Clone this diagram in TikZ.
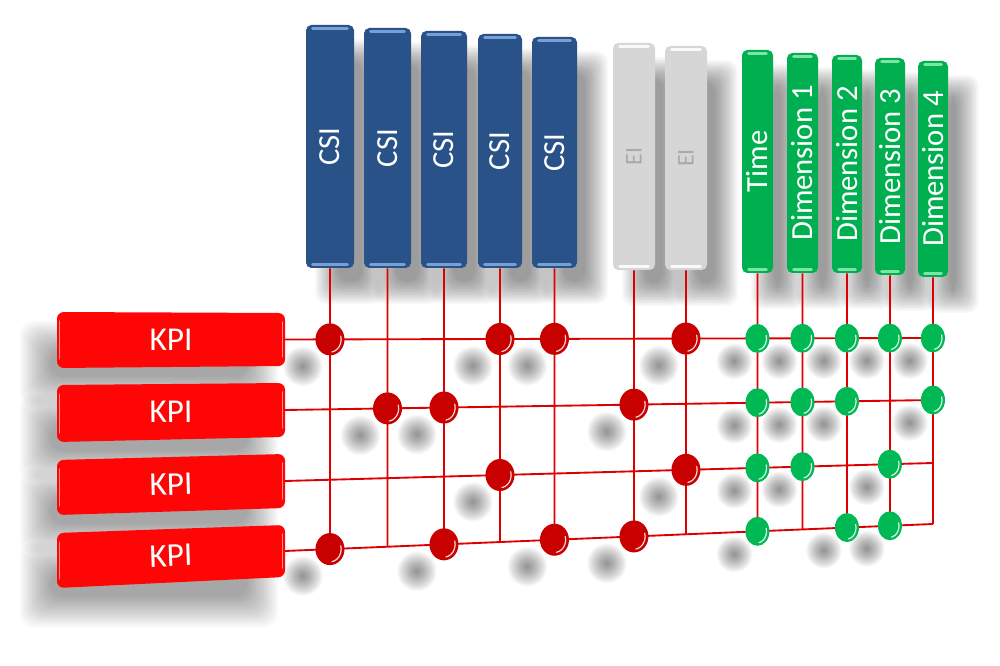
\documentclass[tikz,border=0pt]{standalone}
\usepackage{fontspec}
\setmainfont{Carlito}
\usetikzlibrary{calc,shapes.geometric}
\definecolor{csiblue}{RGB}{40,82,136}
\definecolor{csihi}{RGB}{120,160,212}
\definecolor{eigray}{RGB}{214,214,214}
\definecolor{eihi}{RGB}{250,250,250}
\definecolor{eitext}{RGB}{170,170,170}
\definecolor{dimgreen}{RGB}{0,176,80}
\definecolor{dimhi}{RGB}{125,228,165}
\definecolor{kpired}{RGB}{255,6,6}
\definecolor{dotred}{RGB}{200,0,0}
\definecolor{dotgreen}{RGB}{0,184,84}
\definecolor{gridred}{RGB}{222,0,0}
\pgfdeclarelayer{bg}
\pgfdeclarelayer{shadow}
\pgfsetlayers{bg,shadow,main}
\tikzset{
  colbase/.style 2 args={rounded corners=4pt, inner sep=0pt, fill=#1, text=white,
    font=\fontsize{23}{25}\selectfont,
    path picture={
      \draw[#2, line width=2.2pt, line cap=round]
        ([xshift=5pt,yshift=-2.3pt]path picture bounding box.north west) --
        ([xshift=-5pt,yshift=-2.3pt]path picture bounding box.north east);
      \draw[#2, line width=2.2pt, line cap=round]
        ([xshift=5pt,yshift=2.3pt]path picture bounding box.south west) --
        ([xshift=-5pt,yshift=2.3pt]path picture bounding box.south east);}},
  csibox/.style={colbase={csiblue}{csihi}},
  eibox/.style={colbase={eigray}{eihi}, text=eitext, font=\fontsize{18}{20}\selectfont},
  dimbox/.style={colbase={dimgreen}{dimhi}},
  kpitext/.style={text=white, font=\fontsize{25}{27}\selectfont, inner sep=0pt},
  gridline/.style={draw=gridred, line width=1.4pt},
  softshade/.style={black, opacity=0.024},
  reddot/.style={ellipse, inner sep=0pt, minimum width=21.75pt, minimum height=24pt, fill=dotred,
    path picture={\draw[white, line width=0.9pt, opacity=0.85, line cap=round]
      ($(path picture bounding box.center)+(-80:8.4pt and 9.6pt)$)
      arc[start angle=-80, end angle=15, x radius=8.4pt, y radius=9.6pt];}},
  greendot/.style={ellipse, inner sep=0pt, minimum width=18pt, minimum height=21.75pt, fill=dotgreen,
    path picture={\draw[white, line width=0.9pt, opacity=0.85, line cap=round]
      ($(path picture bounding box.center)+(-80:6.8pt and 8.6pt)$)
      arc[start angle=-80, end angle=15, x radius=6.8pt, y radius=8.6pt];}},
}
% #1 row, #2 TL y, #3 TR y, #4 BR y, #5 BL y, #6 rotation
\newcommand\kpibox[6]{%
  \fill[kpired, rounded corners=5pt] (57,#2) -- (285,#3) -- (285,#4) -- (57,#5) -- cycle;
  \draw[white, opacity=0.55, line width=1.1pt, line cap=round] (59.5,{#2+9}) -- (59.5,{#5-9});
  \draw[white, opacity=0.55, line width=1.1pt, line cap=round] (282.5,{#3+9}) -- (282.5,{#4-9});
  \node[kpitext, rotate=#6] (kpi#1) at (171,{(#2+#3+#4+#5)/4}) {KPI};
  \coordinate (r#1s) at (285,{(#3+#4)/2});
  \begin{pgfonlayer}{shadow}
    \foreach \k in {0,...,15}{
      \fill[softshade, rounded corners=10pt]
        ({57-22+15-2*\k},{#2+24+15-2*\k}) rectangle ({285-22-15+2*\k},{#5+24-15+2*\k});
    }
  \end{pgfonlayer}
}
\begin{document}
\begin{tikzpicture}[x=0.75pt,y=-0.75pt]
\useasboundingbox (0,0) rectangle (1000,666);
\begin{pgfonlayer}{bg}\fill[white] (0,0) rectangle (1000,666);\end{pgfonlayer}

% column boxes
\node[csibox, minimum width=36pt,   minimum height=182.25pt] (c1) at (330,146.5) {\rotatebox{90}{CSI}};
\node[csibox, minimum width=35.25pt,minimum height=180pt]    (c2) at (387.5,148) {\rotatebox{90}{CSI}};
\node[csibox, minimum width=34.5pt, minimum height=177.75pt] (c3) at (444,149.5) {\rotatebox{90}{CSI}};
\node[csibox, minimum width=33pt,   minimum height=175.5pt]  (c4) at (500,151) {\rotatebox{90}{CSI}};
\node[csibox, minimum width=33.75pt,minimum height=173.25pt] (c5) at (554.5,152.5) {\rotatebox{90}{CSI}};
\node[eibox,  minimum width=31.5pt, minimum height=170.25pt] (e1) at (634,156.5) {\rotatebox{90}{EI}};
\node[eibox,  minimum width=31.5pt, minimum height=168pt]    (e2) at (686,158) {\rotatebox{90}{EI}};
\node[dimbox, minimum width=23.25pt,minimum height=167.25pt] (t)  at (757.5,161.5) {\rotatebox{90}{Time}};
\node[dimbox, minimum width=23.25pt,minimum height=165pt]    (d1) at (802.5,163) {\rotatebox{90}{Dimension 1}};
\node[dimbox, minimum width=22.5pt, minimum height=163.5pt]  (d2) at (847,164) {\rotatebox{90}{Dimension 2}};
\node[dimbox, minimum width=22.5pt, minimum height=162.75pt] (d3) at (890,166.5) {\rotatebox{90}{Dimension 3}};
\node[dimbox, minimum width=22.5pt, minimum height=162pt]    (d4) at (933,169) {\rotatebox{90}{Dimension 4}};

\begin{pgfonlayer}{shadow}
\foreach \col in {c1,c2,c3,c4,c5,e1,e2,t,d1,d2,d3,d4}{
  \foreach \k in {0,...,15}{
    \fill[softshade, opacity=0.026, rounded corners=8pt]
      ($(\col.north west)+({20+12-1.5*\k},{25+12-1.5*\k})$) rectangle
      ($(\col.south east)+({20-12+1.5*\k},{25-12+1.5*\k})$);
  }}
\end{pgfonlayer}

% KPI boxes
\kpibox{1}{312}{313}{366}{368}{0}
\kpibox{2}{385}{383}{437}{442}{0.5}
\kpibox{3}{460}{454}{508}{515}{1.5}
\kpibox{4}{533}{525}{577}{588}{2}

% row ends
\coordinate (r1e) at (933,338);
\coordinate (r2e) at (933,400);
\coordinate (r3e) at (933,463);
\coordinate (r4e) at (933,524);

% intersections
\foreach \col in {c1,c2,c3,c4,c5,e1,e2,t,d1,d2,d3,d4}{
  \coordinate (\col dn) at ($(\col.south)+(0,400)$);
  \foreach \row in {1,2,3,4}{
    \coordinate (\col x\row) at (intersection of \col.south--\col dn and r\row s--r\row e);
  }}

% grid
\foreach \row in {1,2,3,4} \draw[gridline] (r\row s) -- (r\row e);
\foreach \col in {c1,c2,c3,c4,c5,e1,e2,t,d1,d2,d3,d4} \draw[gridline] (\col.south) -- (\col x4);

% dots
\foreach \col/\row in {c1/1,c4/1,c5/1,e2/1,c2/2,c3/2,e1/2,c4/3,e2/3,c1/4,c3/4,c5/4,e1/4}{
  \node[reddot] (dot\col\row) at (\col x\row) {};
  \begin{pgfonlayer}{shadow}
    \foreach \k in {0,...,14}
      \fill[softshade, opacity=0.03] ($(\col x\row)+(-27,27)$) circle [radius={1.5pt+0.95pt*\k}];
  \end{pgfonlayer}
}
\foreach \col/\row in {t/1,d1/1,d2/1,d3/1,d4/1,t/2,d1/2,d2/2,d4/2,t/3,d1/3,d3/3,t/4,d2/4,d3/4}{
  \node[greendot] (dot\col\row) at (\col x\row) {};
  \begin{pgfonlayer}{shadow}
    \foreach \k in {0,...,14}
      \fill[softshade, opacity=0.03] ($(\col x\row)+(-23,23)$) circle [radius={1.5pt+0.85pt*\k}];
  \end{pgfonlayer}
}
\end{tikzpicture}
\end{document}
